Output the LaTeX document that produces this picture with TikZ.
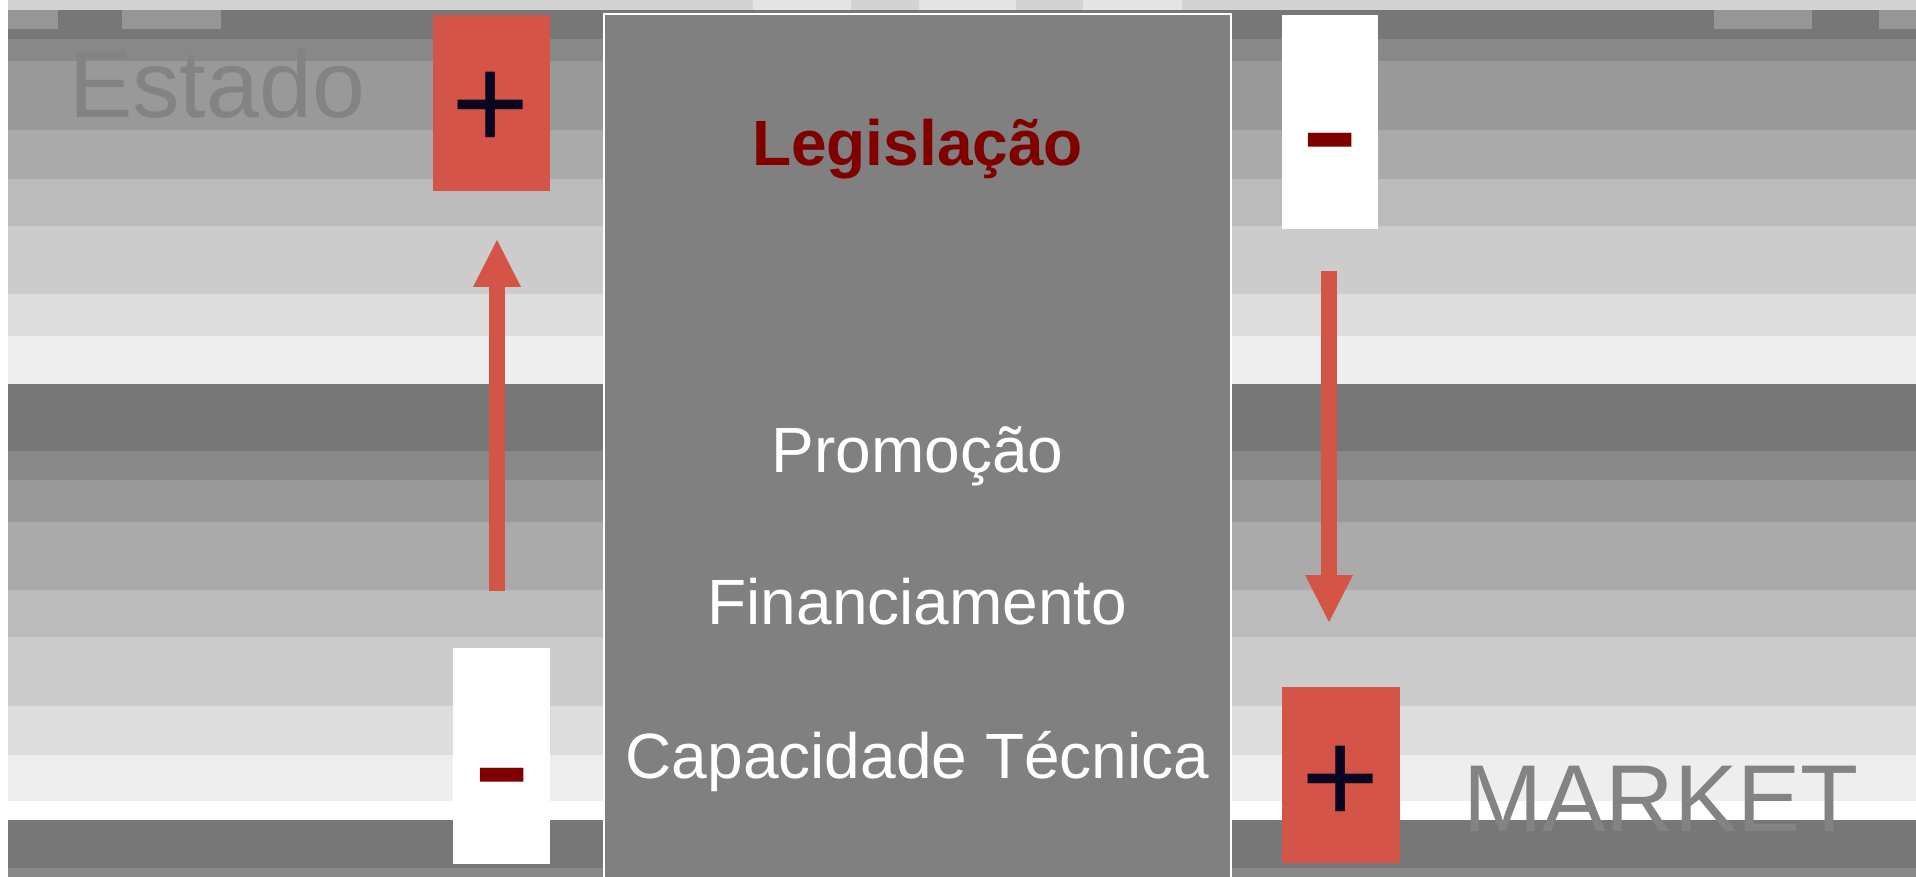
\documentclass[tikz,border=0pt]{standalone}
\usepackage{fontspec}
\setmainfont{Liberation Sans}
\usetikzlibrary{arrows.meta}
\definecolor{redbox}{HTML}{D55448}
\definecolor{darkred}{HTML}{800000}
\definecolor{signnavy}{HTML}{0A0520}
\definecolor{midgray}{HTML}{808080}
\definecolor{txtgray}{HTML}{838383}
\definecolor{topgray}{HTML}{D3D3D3}
\definecolor{toppatch}{HTML}{E4E4E4}
\definecolor{smallbox}{HTML}{969696}
\begin{document}
\begin{tikzpicture}[x=1pt,y=-1pt,
  signbox/.style={draw=none, inner sep=0pt, outer sep=0pt},
  centertext/.style={anchor=base, text=white, font=\fontsize{64}{70}\selectfont},
  bigword/.style={anchor=base, text=txtgray, font=\fontsize{95}{100}\selectfont},
  plussign/.style={anchor=center, inner sep=0pt, text=signnavy, font=\fontsize{134}{140}\selectfont},
  minussign/.style={anchor=base, inner sep=0pt, text=darkred, font=\fontsize{178}{180}\selectfont},
  bigarrow/.style={draw=redbox, line width=16pt, -{Triangle[length=47pt,width=48pt,line width=0pt]}}
]
\useasboundingbox (0,0) rectangle (1916,877);
\fill[white] (0,0) rectangle (1916,877);
% background bands
\foreach \ya/\yb/\c in {0/10/D3D3D3, 10/39/777777, 39/61/888888, 61/130/999999, 130/179/AAAAAA,
  179/226/BBBBBB, 226/294/CCCCCC, 294/336/DDDDDD, 336/384/EEEEEE, 384/451/777777,
  451/480/888888, 480/522/999999, 522/590/AAAAAA, 590/637/BBBBBB, 637/706/CCCCCC,
  706/755/DDDDDD, 755/801/EEEEEE, 801/820/FFFFFF, 820/868/777777, 868/877/888888}{
  \definecolor{bandc}{HTML}{\c}
  \fill[bandc] (8,\ya) rectangle (1916,\yb);
}
% small details of the top strip
\foreach \xa/\xb in {753/851, 919/1016, 1083/1182}{
  \fill[toppatch] (\xa,0) rectangle (\xb,10);
}
\foreach \xa/\xb in {8/58, 122/221, 1714/1812, 1879/1916}{
  \fill[smallbox] (\xa,10) rectangle (\xb,29);
}
% central panel
\node[signbox, draw=white, line width=2.5pt, fill=midgray, minimum width=627pt, minimum height=880pt, anchor=north west] (panel) at (604,14) {};
\node[centertext, text=darkred, font=\fontsize{64}{70}\selectfont\bfseries] (leg) at (917.5,166) {Legislação};
\node[centertext] (prom) at (917.5,472) {Promoção};
\node[centertext] (fin) at (917.5,624) {Financiamento};
\node[centertext] (cap) at (917.5,778) {Capacidade Técnica};
% big labels
\node[bigword] (estado) at (217,118) {Estado};
\node[bigword] (market) at (1661,831) {MARKET};
% sign boxes
\node[signbox, fill=redbox, minimum width=117pt, minimum height=176pt] (plusTL) at (491.5,103) {};
\node[signbox, fill=white, minimum width=96pt, minimum height=214pt] (minusTR) at (1330,122) {};
\node[signbox, fill=white, minimum width=97pt, minimum height=216pt] (minusBL) at (501.5,756) {};
\node[signbox, fill=redbox, minimum width=118pt, minimum height=176pt] (plusBR) at (1341,775) {};
\node[plussign] (plusTLs) at (491,111) {+};
\node[plussign] (plusBRs) at (1341,785) {+};
\node[minussign] (minusTRs) at (1330,188) {-};
\node[minussign] (minusBLs) at (502,822) {-};
% arrows
\coordinate (upS) at (497,591);
\coordinate (upE) at (497,240);
\coordinate (dnS) at (1329,271);
\coordinate (dnE) at (1329,622);
\draw[bigarrow] (upS) -- (upE);
\draw[bigarrow] (dnS) -- (dnE);
\end{tikzpicture}
\end{document}
